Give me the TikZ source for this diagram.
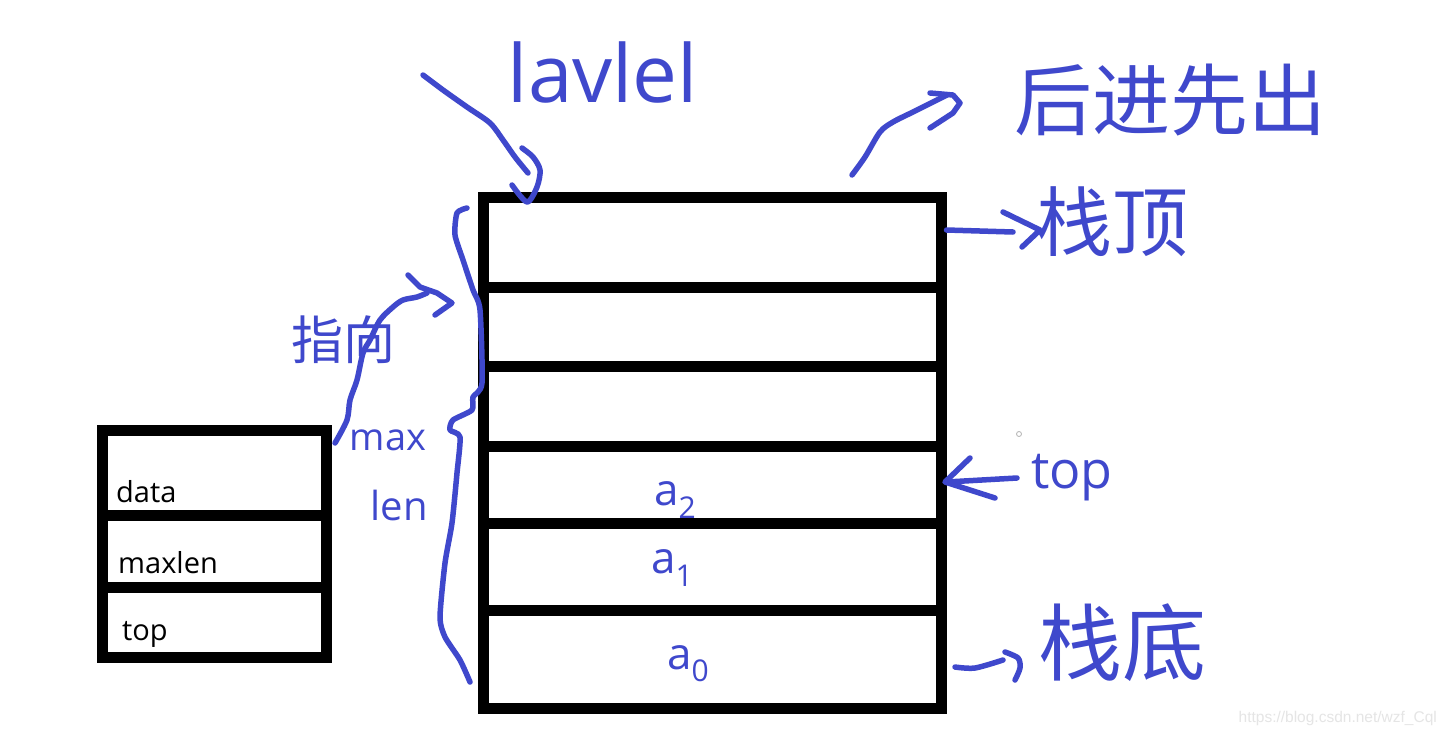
\documentclass[tikz,border=0pt]{standalone}
\usepackage{fontspec}
\setmainfont{Open Sans}
\newfontfamily\cjk{Noto Sans CJK SC}
\newfontfamily\wmfont{Liberation Sans}
\definecolor{pen}{RGB}{63,72,204}
\newcommand{\elem}[1]{a\raisebox{-0.28em}{\fontsize{30pt}{30pt}\selectfont #1}}
\tikzset{
  cellbox/.style={draw=black, line width=11pt, minimum width=458pt, inner sep=0pt},
  smallbox/.style={draw=black, line width=11pt, minimum width=224pt, inner sep=0pt},
  ink/.style={draw=pen, line width=5.5pt, line cap=round, line join=round},
  hand/.style={text=pen, inner sep=0pt},
  elemlabel/.style={text=pen, inner sep=0pt, font=\fontsize{44pt}{44pt}\selectfont},
  field/.style={inner sep=0pt, anchor=base west, font=\fontsize{29pt}{29pt}\selectfont},
}
\begin{document}
\begin{tikzpicture}[x=1pt,y=-1pt]
\useasboundingbox[fill=white] (0,0) rectangle (1447,734);

% main stack
\node[cellbox, minimum height=90pt] (c1) at (712,242) {};
\node[cellbox, minimum height=79pt] (c2) at (712,326.5) {};
\node[cellbox, minimum height=80pt] (c3) at (712,406) {};
\node[cellbox, minimum height=77pt] (c4) at (712,484.5) {};
\node[cellbox, minimum height=87pt] (c5) at (712,566.5) {};
\node[cellbox, minimum height=98pt] (c6) at (712,659) {};

% struct box
\node[smallbox, minimum height=85pt] (s1) at (214,472.5) {};
\node[smallbox, minimum height=72pt] (s2) at (214,551) {};
\node[smallbox, minimum height=70pt] (s3) at (214,622) {};
\node[field] (tdata) at (116,502) {data};
\node[field] (tmax) at (118,573) {maxlen};
\node[field] (ttop) at (122,640) {top};

% element labels
\node[elemlabel] (a2) at (675,500) {\elem{2}};
\node[elemlabel] (a1) at (672,568) {\elem{1}};
\node[elemlabel] (a0) at (688,664) {\elem{0}};

% handwritten labels
\node[hand, font=\fontsize{80pt}{80pt}\selectfont] (lbl) at (603,72) {lavlel};
\node[hand, font=\cjk\fontsize{78pt}{78pt}\selectfont] (lifo) at (1170,100) {后进先出};
\node[hand, font=\cjk\fontsize{76pt}{76pt}\selectfont] (stop) at (1112,222) {栈顶};
\node[hand, font=\cjk\fontsize{84pt}{84pt}\selectfont] (sbot) at (1122,643) {栈底};
\node[hand, font=\fontsize{52pt}{52pt}\selectfont] (ptop) at (1072,478) {top};
\node[hand, font=\cjk\fontsize{52pt}{52pt}\selectfont] (point) at (343,340) {指向};
\node[hand, font=\fontsize{38pt}{38pt}\selectfont] (mx) at (388,440) {max};
\node[hand, font=\fontsize{40pt}{40pt}\selectfont] (ln) at (399,505) {len};

% arrow to top-left corner
\coordinate (hookA) at (423,75);
\draw[ink] plot[smooth] coordinates {(hookA) (443,90) (467,107) (490,123) (503,140) (515,157) (528,173)};
\draw[ink] plot[smooth] coordinates {(522,148) (533,157) (540,170) (537,187) (527,202) (512,185)};

% arrow to LIFO
\draw[ink] plot[smooth] coordinates {(852,175) (865,157) (880,132) (893,122) (913,112) (927,105) (947,95)};
\draw[ink] (930,93) -- (953,95) -- (960,103) -- (953,113) -- (930,128);

% arrow to stack top label
\draw[ink] (c1.east |- 0,230) -- (1013,232);
\draw[ink] (1003,212) -- (1040,230) -- (1022,247);

% top pointer arrow
\draw[ink] (1017,478) -- (c4.east |- 0,482);
\draw[ink] (970,458) -- (945,482) -- (995,498);

% arrow to stack bottom label
\draw[ink] plot[smooth] coordinates {(955,667) (975,668) (1003,660)};
\draw[ink] plot[smooth] coordinates {(1005,652) (1018,658) (1020,668) (1015,680)};

% brace
\draw[ink] plot[smooth, tension=0.4] coordinates {(467,208) (457,213) (455,235) (463,260) (473,290) (480,310) (482,383) (473,397) (472,410) (453,420) (450,430) (460,437) (457,473) (452,523) (445,563) (440,617) (445,637) (460,660) (470,682)};

% 指向 arrow
\draw[ink] plot[smooth] coordinates {(335,443) (347,420) (350,400) (357,380) (363,353) (370,340) (380,320) (393,307) (403,300) (417,297) (427,293)};
\draw[ink] (408,275) -- (420,287) -- (437,293) -- (452,303) -- (435,315);

% tiny circle
\draw[gray!60, line width=0.8pt] (1019,434) circle (2.5pt);

% watermark
\node[text=black!10, inner sep=0pt, anchor=base east, font=\wmfont\fontsize{15.5pt}{15.5pt}\selectfont] (wm) at (1437,722) {https://blog.csdn.net/wzf\_Cql};
\end{tikzpicture}
\end{document}
